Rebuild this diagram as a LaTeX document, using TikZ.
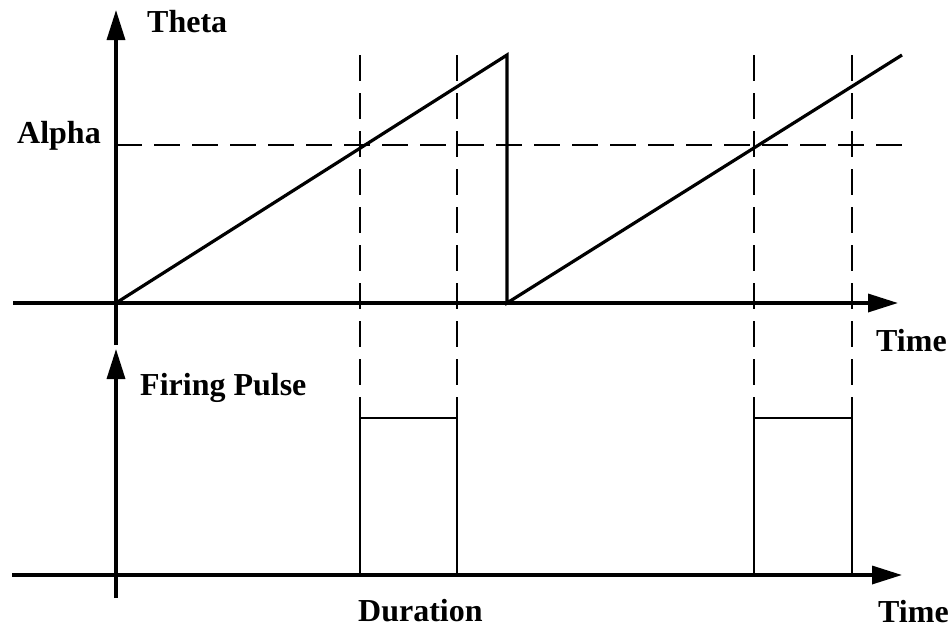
\documentclass[tikz,border=0pt]{standalone}
\usepackage{fontspec}
\setmainfont{Liberation Serif}
\usetikzlibrary{arrows.meta}
\begin{document}
\begin{tikzpicture}[x=1pt,y=-1pt,
  axis/.style={line width=3.4pt,-{Triangle[length=30pt,width=18pt]}},
  wave/.style={line width=3.2pt,line join=miter},
  pulse/.style={line width=2.6pt,line join=miter},
  guide/.style={line width=2.3pt,dash pattern=on 26pt off 12pt},
  lbl/.style={font=\fontsize{32}{34}\selectfont\bfseries,inner sep=0pt,anchor=base west}]
\useasboundingbox (0,0) rectangle (951,630);
% coordinates
\coordinate (o1) at (116,303);
\coordinate (yt) at (116,10);
\coordinate (yb) at (116,345);
\coordinate (xs1) at (13,303);
\coordinate (xe1) at (898,303);
\coordinate (o2) at (116,598);
\coordinate (yt2) at (116,349);
\coordinate (xs2) at (12,575);
\coordinate (xe2) at (902,575);
\coordinate (p1) at (507,55);
\coordinate (r1) at (507,303);
\coordinate (p2) at (902,55);
\coordinate (a1) at (116,145);
\coordinate (a2) at (905,145);
\foreach \n/\x in {d1/360,d2/457,d3/754,d4/852}{
  \coordinate (\n t) at (\x,55);
  \coordinate (\n b) at (\x,418);
  \coordinate (\n g) at (\x,575);
}
% axes
\draw[axis] (yb) -- (yt);
\draw[axis] (xs1) -- (xe1);
\draw[axis] (o2) -- (yt2);
\draw[axis] (xs2) -- (xe2);
% sawtooth
\draw[wave] (o1) -- (p1) -- (r1) -- (p2);
% guides
\draw[guide] (a1) -- (a2);
\foreach \n in {d1,d2,d3,d4}{\draw[guide] (\n t) -- (\n b);}
% pulses
\draw[pulse] (d1g) -- (d1b) -- (d2b) -- (d2g);
\draw[pulse] (d3g) -- (d3b) -- (d4b) -- (d4g);
% labels
\node[lbl] (theta) at (147,32) {Theta};
\node[lbl] (alpha) at (17,143) {Alpha};
\node[lbl] (time1) at (876,351) {Time};
\node[lbl] (firing) at (140,395) {Firing Pulse};
\node[lbl] (dur) at (358,621) {Duration};
\node[lbl] (time2) at (878,622) {Time};
\end{tikzpicture}
\end{document}
